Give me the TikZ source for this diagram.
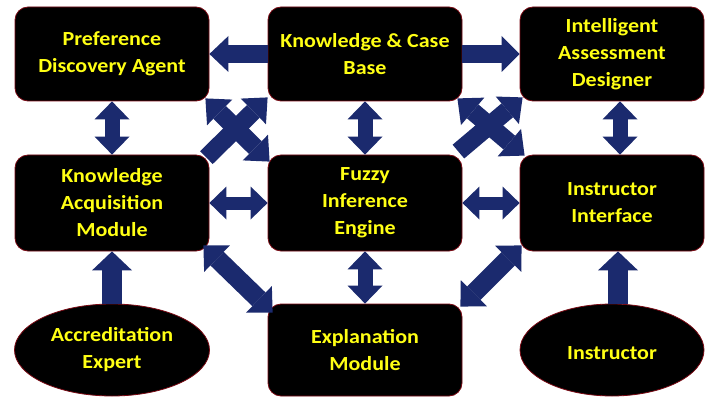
\documentclass[tikz,border=0pt]{standalone}
\usepackage{fontspec}
\setmainfont{Carlito}[FakeStretch=1.1]
\usetikzlibrary{arrows.meta,shapes.geometric}
\definecolor{arrowblue}{HTML}{1B2A6E}
\definecolor{rim}{HTML}{7A0A14}
\definecolor{label}{HTML}{FFFF14}
\tikzset{
  labelfont/.style={font=\fontsize{20}{27}\selectfont\bfseries},
  % a tall invisible strut on the first line sets the text block a little lower
  lowered/.style={execute at begin node={\rule{0pt}{20pt}}},
  block/.style={draw=rim, line width=0.8pt, fill=black, rounded corners=13pt,
    text=label, align=center, labelfont, lowered, inner sep=0pt},
  oval/.style={ellipse, draw=rim, line width=0.8pt, fill=black,
    text=label, align=center, labelfont, lowered, inner sep=0pt},
  link/.style={draw=arrowblue, line cap=butt, line width=#1},
  one/.style 2 args={arrows={-{Triangle[width=#1,length=#2,line width=0pt]}}},
  two/.style 2 args={arrows={{Triangle[width=#1,length=#2,line width=0pt]}-{Triangle[width=#1,length=#2,line width=0pt]}}},
}
\begin{document}
\begin{tikzpicture}[x=1pt,y=-1pt]
\useasboundingbox[fill=white] (0,0) rectangle (706,398);

% top row
\node[block, minimum width=194pt, minimum height=94pt] (pda) at (112,54) {Preference\\Discovery Agent};
\node[block, minimum width=194pt, minimum height=94pt] (kcb) at (365,54) {Knowledge \& Case\\Base};
\node[block, minimum width=184pt, minimum height=94pt] (iad) at (612,54) {Intelligent\\Assessment\\Designer};

% middle row
\node[block, minimum width=194pt, minimum height=96pt] (kam) at (112,203) {Knowledge\\Acquisition\\Module};
\node[block, minimum width=194pt, minimum height=96pt] (fie) at (365,203) {Fuzzy\\Inference\\Engine};
\node[block, minimum width=184pt, minimum height=96pt] (ii) at (612,203) {Instructor\\Interface};

% bottom row
\node[oval, minimum width=195pt, minimum height=92pt] (ae) at (112,350) {Accreditation\\Expert};
\node[block, minimum width=194pt, minimum height=92pt] (em) at (365,350) {Explanation\\Module};
\node[oval, minimum width=184pt, minimum height=92pt] (ins) at (612,350) {Instructor};

% horizontal links
\draw[link=18pt, one={36pt}{19pt}] (kcb.west) -- (pda.east);
\draw[link=18pt, one={36pt}{18pt}] (kcb.east) -- (iad.west);
\draw[link=13pt, two={33pt}{17pt}] (kam.east) -- (fie.west);
\draw[link=13pt, two={33pt}{17pt}] (fie.east) -- (ii.west);

% vertical links
\draw[link=15pt, two={35pt}{18pt}] (pda.south) -- (kam.north);
\draw[link=15pt, two={35pt}{18pt}] (kcb.south) -- (fie.north);
\draw[link=15pt, two={35pt}{18pt}] ([xshift=8pt]iad.south) -- ([xshift=8pt]ii.north);
\draw[link=15pt, two={35pt}{18pt}] (fie.south) -- (em.north);
\draw[link=20pt, one={40pt}{19pt}] (ae.north) -- (kam.south);
\draw[link=20pt, one={40pt}{19pt}] ([xshift=6pt]ins.north) -- ([xshift=6pt]ii.south);

% crossing links, left
\draw[link=18pt, one={36pt}{20pt}] ([shift={(-3,3)}]kam.north east) -- ([shift={(0,-4)}]kcb.south west);
\draw[link=18pt, two={36pt}{20pt}] ([shift={(-4,-3)}]pda.south east) -- ([shift={(2,7)}]fie.north west);

% crossing links, right
\draw[link=18pt, two={36pt}{20pt}] ([shift={(-5,-3)}]kcb.south east) -- ([shift={(5,1)}]ii.north west);
\draw[link=18pt, one={36pt}{20pt}] ([shift={(-4,-3)}]fie.north east) -- ([shift={(3,-4)}]iad.south west);

% diagonal links to the explanation module
\draw[link=19pt, two={37pt}{19pt}] ([shift={(-6,-6)}]kam.south east) -- ([shift={(5,9)}]em.north west);
\draw[link=19pt, two={37pt}{19pt}] ([shift={(2,-6)}]ii.south west) -- ([shift={(-2,3)}]em.north east);
\end{tikzpicture}
\end{document}
